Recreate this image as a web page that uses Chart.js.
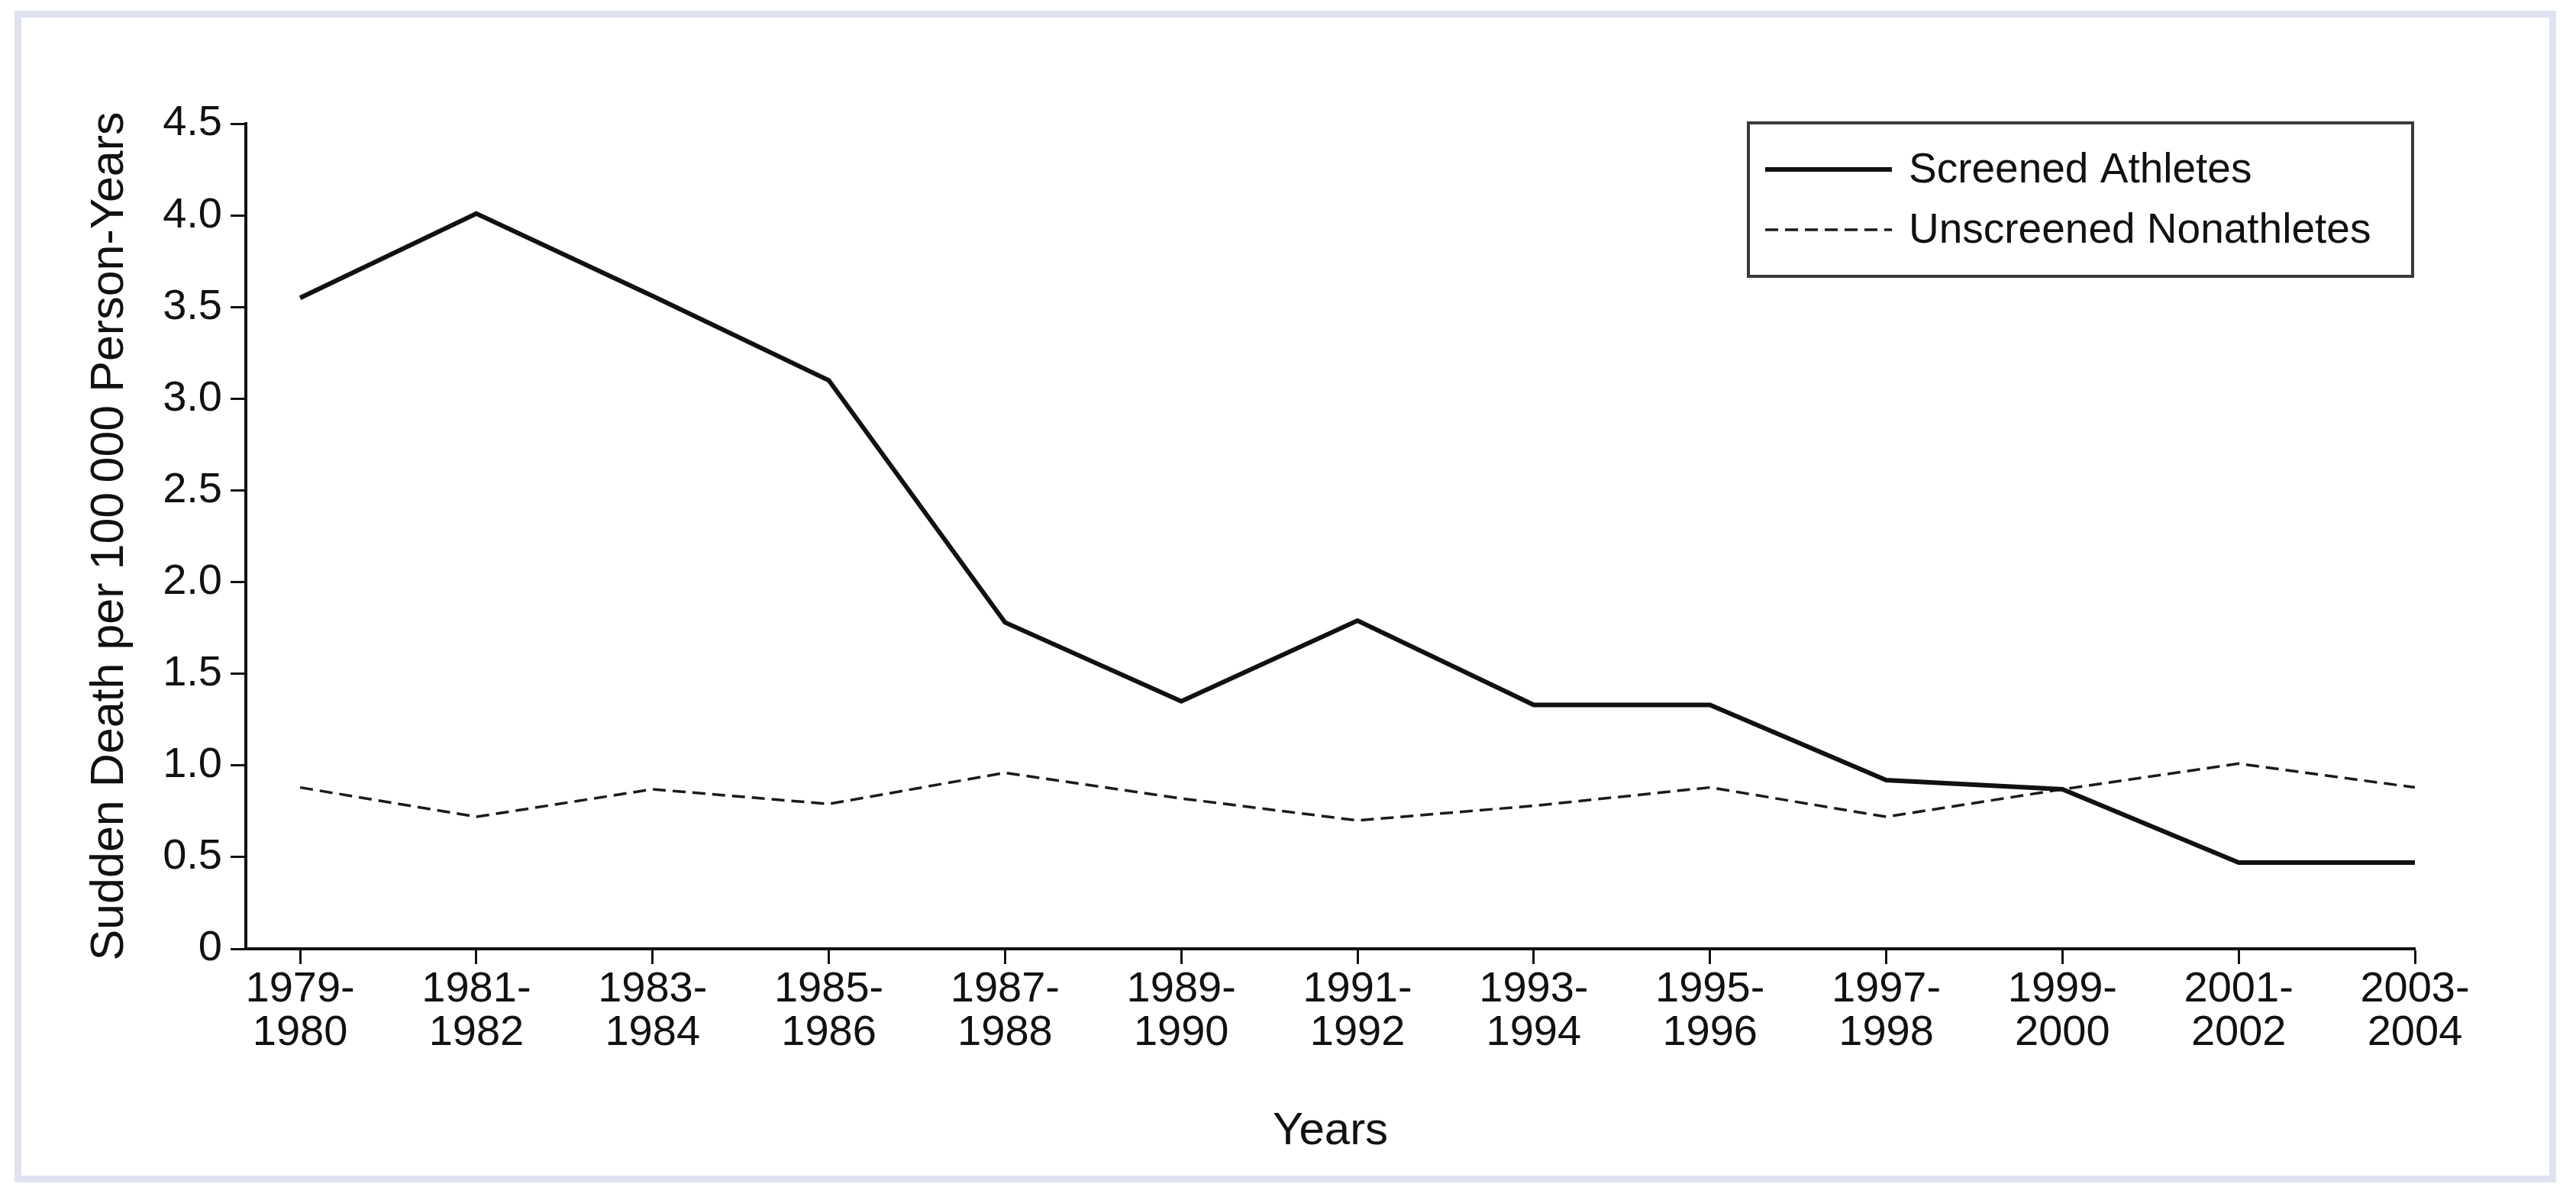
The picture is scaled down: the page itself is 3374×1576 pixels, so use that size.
<!DOCTYPE html>
<html>
<head>
<meta charset="utf-8">
<script src="https://cdn.jsdelivr.net/npm/chart.js@4/dist/chart.umd.min.js"></script>
<style>
  html, body { margin: 0; padding: 0; background: #fff; }
  body { width: 3374px; height: 1576px; position: relative; overflow: hidden; }
  #frame {
    position: absolute; left: 19px; top: 14px; width: 3329px; height: 1535px;
    box-sizing: border-box; border: 9px solid #dfe3f1;
  }
  #chart { position: absolute; left: 0; top: 0; }
</style>
</head>
<body>
<div id="frame"></div>
<canvas id="chart" width="3374" height="1576"></canvas>
<script>
const periods = [
  ['1979-', '1980'], ['1981-', '1982'], ['1983-', '1984'], ['1985-', '1986'],
  ['1987-', '1988'], ['1989-', '1990'], ['1991-', '1992'], ['1993-', '1994'],
  ['1995-', '1996'], ['1997-', '1998'], ['1999-', '2000'], ['2001-', '2002'],
  ['2003-', '2004']
];
const screenedAthletes = [3.55, 4.01, 3.56, 3.1, 1.78, 1.35, 1.79, 1.33, 1.33, 0.92, 0.87, 0.47, 0.47];
const unscreenedNonathletes = [0.88, 0.72, 0.87, 0.79, 0.96, 0.82, 0.7, 0.78, 0.88, 0.72, 0.87, 1.01, 0.88];
const yTicks = [0, 0.5, 1, 1.5, 2, 2.5, 3, 3.5, 4, 4.5];

const FONT = "'Liberation Sans', Arial, Helvetica, sans-serif";

const toPoints = vals => vals.map((v, i) => ({ x: i, y: v }));

// legend drawn as a framed box inside the plot, like the original figure
const boxedLegend = {
  id: 'boxedLegend',
  afterDraw(chart) {
    const { ctx } = chart;
    const left = 2290, top = 161, right = 3160, bottom = 362;
    ctx.save();
    ctx.lineWidth = 4;
    ctx.strokeStyle = '#3a3a3a';
    ctx.setLineDash([]);
    ctx.strokeRect(left, top, right - left, bottom - top);
    ctx.font = '55px ' + FONT;
    ctx.fillStyle = '#111';
    ctx.textBaseline = 'middle';
    const rows = [222, 301];
    chart.data.datasets.forEach((ds, i) => {
      const y = rows[i];
      ctx.beginPath();
      ctx.lineWidth = ds.borderWidth;
      ctx.strokeStyle = ds.borderColor;
      ctx.setLineDash(ds.borderDash || []);
      ctx.moveTo(2312, y);
      ctx.lineTo(2478, y);
      ctx.stroke();
      ctx.setLineDash([]);
      ctx.fillText(ds.label, 2500, y + 2);
    });
    ctx.restore();
  }
};

new Chart(document.getElementById('chart'), {
  type: 'line',
  data: {
    datasets: [
      {
        label: 'Screened Athletes',
        data: toPoints(screenedAthletes),
        borderColor: '#111',
        borderWidth: 6,
        pointRadius: 0,
        tension: 0
      },
      {
        label: 'Unscreened Nonathletes',
        data: toPoints(unscreenedNonathletes),
        borderColor: '#1a1a1a',
        borderWidth: 3.5,
        borderDash: [17, 9],
        pointRadius: 0,
        tension: 0
      }
    ]
  },
  options: {
    responsive: false,
    devicePixelRatio: 1,
    animation: false,
    layout: { padding: { left: 0, top: 162, right: 211, bottom: 0 } },
    plugins: {
      legend: { display: false },
      tooltip: { enabled: false }
    },
    scales: {
      x: {
        type: 'linear',
        min: -0.308,
        max: 12,
        border: { display: true, color: '#111', width: 4 },
        grid: { display: true, drawOnChartArea: false, drawTicks: true, tickLength: 20, tickWidth: 3, tickColor: '#111' },
        ticks: {
          stepSize: 1,
          includeBounds: false,
          autoSkip: false,
          maxRotation: 0,
          padding: 5,
          color: '#111',
          font: { family: FONT, size: 56, lineHeight: 1.02 },
          callback: v => periods[v]
        },
        title: {
          display: true,
          text: 'Years',
          color: '#111',
          font: { family: FONT, size: 60 },
          padding: { top: 0, bottom: 58 }
        },
        afterFit: s => { s.height = 333; }
      },
      y: {
        min: 0,
        max: 4.5,
        border: { display: true, color: '#111', width: 4 },
        grid: { display: true, drawOnChartArea: false, drawTicks: true, tickLength: 20, tickWidth: 3, tickColor: '#111' },
        afterBuildTicks: s => { s.ticks = yTicks.map(v => ({ value: v })); },
        ticks: {
          padding: 11,
          color: '#111',
          font: { family: FONT, size: 56 },
          callback: v => (v === 0 ? '0' : v.toFixed(1))
        },
        title: {
          display: true,
          text: 'Sudden Death per 100\u2009000 Person-Years',
          color: '#111',
          font: { family: FONT, size: 61 },
          padding: { top: 108, bottom: 0 }
        },
        afterFit: s => { s.width = 322; }
      }
    }
  },
  plugins: [boxedLegend]
});
</script>
</body>
</html>
